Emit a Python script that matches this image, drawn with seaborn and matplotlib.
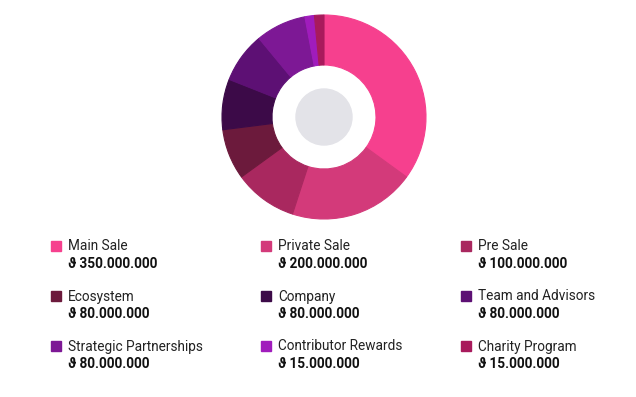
#!/usr/bin/env python3
"""Token allocation donut with a three-column legend below it."""
import matplotlib
matplotlib.use("Agg")
import matplotlib.pyplot as plt
import seaborn as sns

sns.set_theme(style="white")
plt.rcParams["font.family"] = ["Roboto", "DejaVu Sans"]

# Data
categories = ["Main Sale", "Private Sale", "Pre Sale",
              "Ecosystem", "Company", "Team and Advisors",
              "Strategic Partnerships", "Contributor Rewards", "Charity Program"]
amounts = [350_000_000, 200_000_000, 100_000_000,
           80_000_000, 80_000_000, 80_000_000,
           80_000_000, 15_000_000, 15_000_000]
colors = ["#f6408e", "#d33a7a", "#a9285f",
          "#6c1a3c", "#3c0a48", "#5d1074",
          "#7d1895", "#a01cbc", "#a81a5c"]

W, H = 636, 397
fig = plt.figure(figsize=(W / 100, H / 100), dpi=100)
fig.patch.set_facecolor("white")

# donut
cx, cy, r_out, r_in = 324, 117, 102, 52
box = 106
ax = fig.add_axes([(cx - box) / W, (H - cy - box) / H, 2 * box / W, 2 * box / H])
wedges, _ = ax.pie(amounts, colors=colors, radius=r_out, startangle=90, counterclock=False,
                   wedgeprops=dict(width=r_out - r_in, linewidth=0.8))
for w in wedges:
    w.set_edgecolor(w.get_facecolor())
ax.add_patch(plt.Circle((0, 0), 28, color="#e3e3e8", zorder=3))
ax.set_xlim(-box, box)
ax.set_ylim(-box, box)
ax.set_aspect("equal")
ax.axis("off")


def fmt(v):
    return "\u03d1 " + f"{v:,}".replace(",", ".")


col_x = [51, 261, 461]
row_y = [246, 296, 346]
for i, (name, val, col) in enumerate(zip(categories, amounts, colors)):
    x0 = col_x[i % 3]
    y0 = row_y[i // 3]
    fig.patches.append(plt.Rectangle((x0 / W, (H - y0 - 5) / H), 10 / W, 10 / H,
                                     transform=fig.transFigure, color=col, figure=fig))
    fig.text((x0 + 17) / W, (H - y0 - 0.5) / H, name, fontsize=9.8, color="#222222",
             va="center", ha="left")
    fig.text((x0 + 17) / W, (H - y0 - 18) / H, fmt(val), fontsize=9.8, color="#111111",
             fontweight="bold", va="center", ha="left")

fig.savefig("out.png", dpi=100, facecolor="white")
plt.close(fig)
